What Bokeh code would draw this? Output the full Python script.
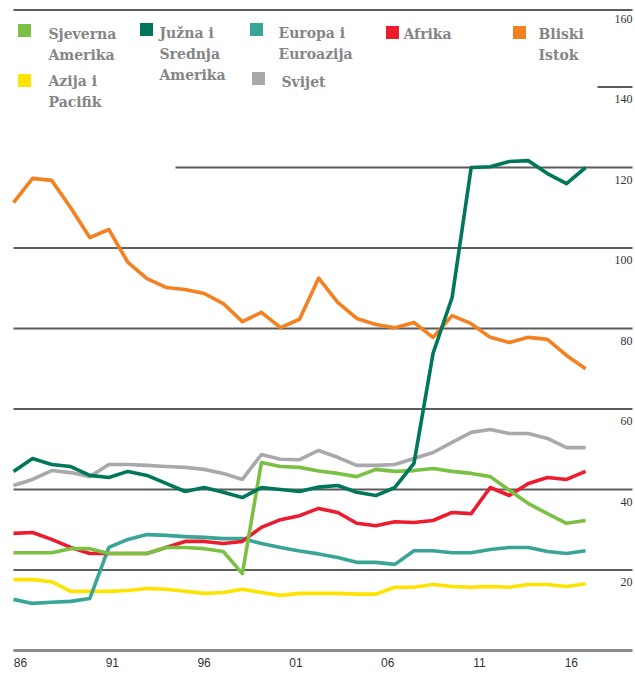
from bokeh.plotting import figure
from bokeh.models import ColumnDataSource, FixedTicker, LabelSet, Range1d
from bokeh.core.properties import value
from bokeh.embed import file_html
from bokeh.resources import INLINE

# ---------------- data ----------------
years = list(range(1986, 2017))

sjeverna_amerika = [24.3, 24.3, 24.3, 25.3, 25.3, 24.1, 24.1, 24.1, 25.6, 25.6,
                    25.3, 24.6, 19.1, 46.7, 45.7, 45.5, 44.6, 44.0, 43.2, 45.0,
                    44.5, 44.7, 45.2, 44.5, 44.0, 43.2, 39.8, 36.5, 34.0, 31.6, 32.3]
juzna_srednja_amerika = [44.5, 47.7, 46.2, 45.7, 43.5, 43.0, 44.5, 43.5, 41.5, 39.5,
                         40.5, 39.3, 38.0, 40.5, 40.0, 39.5, 40.6, 41.0, 39.3, 38.5,
                         40.5, 46.5, 73.8, 87.7, 120.0, 120.2, 121.5, 121.7, 118.5, 116.0, 120.0]
europa_euroazija = [12.7, 11.7, 12.0, 12.2, 12.9, 25.6, 27.6, 28.8, 28.6, 28.3,
                    28.1, 27.8, 27.8, 26.6, 25.6, 24.7, 24.0, 23.1, 21.9, 21.9,
                    21.4, 24.8, 24.8, 24.3, 24.3, 25.1, 25.6, 25.6, 24.6, 24.1, 24.8]
afrika = [29.1, 29.3, 27.6, 25.6, 24.1, 24.1, 24.1, 24.1, 25.6, 27.1,
          27.1, 26.6, 27.1, 30.6, 32.5, 33.5, 35.3, 34.3, 31.6, 31.0,
          32.0, 31.8, 32.3, 34.3, 34.0, 40.5, 38.5, 41.5, 43.0, 42.5, 44.5]
bliski_istok = [111.3, 117.3, 116.8, 110.0, 102.6, 104.6, 96.4, 92.4, 90.2, 89.7,
                88.7, 86.2, 81.7, 84.0, 80.2, 82.3, 92.5, 86.5, 82.5, 81.0,
                80.2, 81.5, 77.8, 83.2, 81.2, 77.8, 76.5, 77.8, 77.3, 73.3, 70.0]
azija_pacifik = [17.6, 17.6, 17.1, 14.7, 14.7, 14.7, 14.9, 15.4, 15.2, 14.7,
                 14.2, 14.4, 15.2, 14.4, 13.7, 14.2, 14.2, 14.2, 14.0, 14.0,
                 15.7, 15.7, 16.4, 15.9, 15.7, 15.9, 15.7, 16.4, 16.4, 15.9, 16.6]
svijet = [41.0, 42.5, 44.7, 44.2, 43.2, 46.2, 46.2, 46.0, 45.7, 45.5,
          45.0, 44.0, 42.5, 48.7, 47.5, 47.4, 49.7, 48.0, 46.0, 46.0,
          46.2, 47.7, 49.2, 51.7, 54.2, 54.9, 53.9, 53.9, 52.7, 50.4, 50.4]

series_names = ["Sjeverna\nAmerika", "Južna i\nSrednja\nAmerika", "Europa i\nEuroazija",
                "Afrika", "Bliski\nIstok", "Azija i\nPacifik", "Svijet"]
series_values = [sjeverna_amerika, juzna_srednja_amerika, europa_euroazija,
                 afrika, bliski_istok, azija_pacifik, svijet]

x_tick_years = [1986, 1991, 1996, 2001, 2006, 2011, 2016]
x_tick_labels = ["86", "91", "96", "01", "06", "11", "16"]
y_ticks = [0, 20, 40, 60, 80, 100, 120, 140, 160]
y_tick_labels = ["0", "20", "40", "60", "80", "100", "120", "140", "160"]

# ---------------- styling / layout ----------------
colors = ["#7ac143", "#00765a", "#38a596", "#ec1c2e", "#f5801f", "#ffe300", "#a9a9ad"]
draw_order = [5, 2, 3, 0, 6, 4, 1]

W, H = 634, 675
FH = 652
PPY = 19.07
X_START = 1986 - 13 / PPY
X_END = X_START + W / PPY
PPU = 4.025
Y_END = 160 + 6 / PPU
Y_START = Y_END - FH / PPU


def lx(px):  # page pixel -> data x (legend / rule / tick placement only)
    return X_START + px / PPY


def ly(py):  # page pixel -> data y (legend / rule placement only)
    return Y_END - py / PPU


p = figure(width=W, height=H, x_range=Range1d(X_START, X_END), y_range=Range1d(Y_START, Y_END),
           title=None, output_backend="svg", toolbar_location=None, y_axis_location=None,
           min_border_left=0, min_border_right=0, min_border_top=0, min_border_bottom=H - FH,
           outline_line_color=None, background_fill_color="white", border_fill_color="white")
p.xgrid.visible = False
p.ygrid.visible = False

rule_end = lx(632)

# horizontal rules (the top one nudged just inside the visible canvas edge)
top_v = max(y_ticks)
grid_vals = [v for v in y_ticks if 0 < v]
grid_x0, grid_y = [], []
for v in grid_vals:
    if v == 140:
        grid_x0.append(lx(597))
    elif v == 120:
        grid_x0.append(lx(175))
    else:
        grid_x0.append(lx(13))
    grid_y.append(ly(9.5) if v == top_v else v)
p.segment(x0=grid_x0, y0=grid_y, x1=[rule_end] * len(grid_vals), y1=grid_y,
          line_color="#5c5c5c", line_width=2)
p.segment(x0=[lx(13)], y0=[0], x1=[rule_end], y1=[0], line_color="#8a8a8a", line_width=3)

# series lines
for i in draw_order:
    p.line(years, series_values[i], line_color=colors[i], line_width=3.6, line_join="round")

# x axis (tick labels placed as in the reference)
tick_pos = [round(lx(20 + (yr - 1986) * 18.36), 4) for yr in x_tick_years]
ax = p.below[0]
ax.ticker = FixedTicker(ticks=tick_pos)
ax.major_label_overrides = {t: lab for t, lab in zip(tick_pos, x_tick_labels)}
ax.axis_line_color = None
ax.major_tick_line_color = None
ax.minor_tick_line_color = None
ax.major_tick_out = 0
ax.major_tick_in = 0
ax.major_label_standoff = 5
ax.major_label_text_font = "Liberation Sans"
ax.major_label_text_font_size = "12px"
ax.major_label_text_color = "#333333"

# y tick labels (right side, below each rule)
ysrc = ColumnDataSource(dict(x=[rule_end] * len(y_ticks), y=y_ticks, t=y_tick_labels))
p.add_layout(LabelSet(x="x", y="y", text="t", source=ysrc, text_align="right",
                      text_baseline="middle", y_offset=-12, x_offset=0,
                      text_font="Liberation Sans", text_font_size="12px",
                      text_color="#333333"))

# legend
sq_pos = [(24, 30), (146, 29), (256, 29), (392, 32), (519, 32), (24, 80), (258, 78)]
txt_pos = [(48, 33), (159, 32), (278, 32), (403, 33), (538, 33), (48, 80), (281, 81)]
LINE_H = 21
p.scatter(x=[lx(a) for a, b in sq_pos], y=[ly(b) for a, b in sq_pos], marker="square",
          size=13, fill_color=colors, line_color=None)
tx, ty, tt = [], [], []
for name, (a, b) in zip(series_names, txt_pos):
    for k, line in enumerate(name.split("\n")):
        tx.append(lx(a))
        ty.append(ly(b + k * LINE_H))
        tt.append(line)
p.text(x=tx, y=ty, text=tt, text_font=value("DejaVu Serif"), text_font_style="bold",
       text_font_size="14px", text_color="#858585", text_baseline="middle", text_align="left")

open("out.html", "w").write(file_html(p, INLINE))
